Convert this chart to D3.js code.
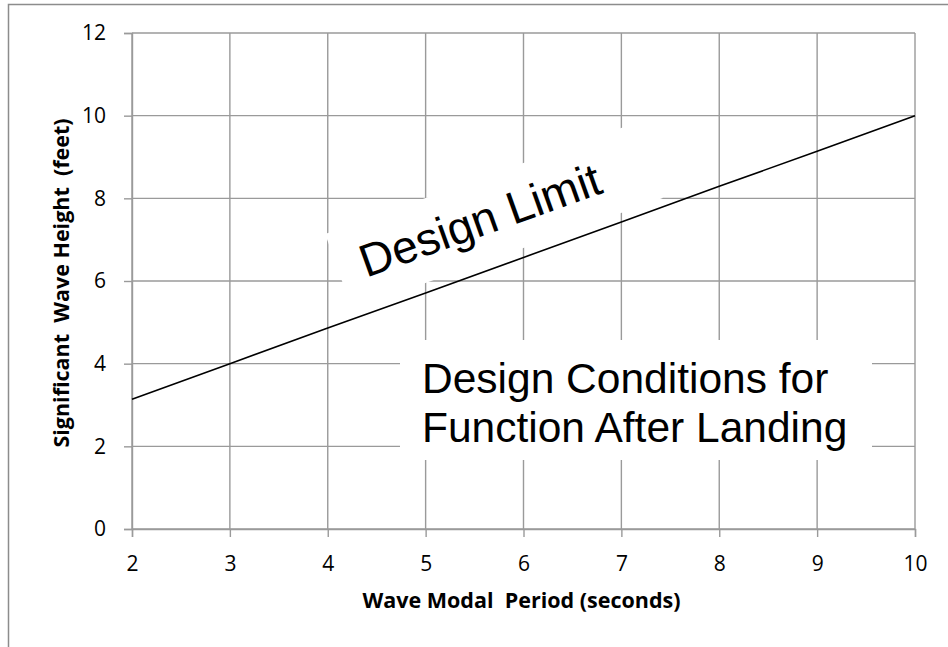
<!DOCTYPE html>
<html>
<head>
<meta charset="utf-8">
<script src="https://cdn.jsdelivr.net/npm/d3@7"></script>
<style>
  html, body { margin: 0; padding: 0; background: #fff; }
  svg { display: block; }
</style>
</head>
<body>
<svg id="chart" width="948" height="647"></svg>
<script>
// ---- data ----
const periods = [2, 3, 4, 5, 6, 7, 8, 9, 10];
const designLimit = [3.14, 4.0, 4.86, 5.71, 6.57, 7.43, 8.29, 9.14, 10.0];
const xTicks = [2, 3, 4, 5, 6, 7, 8, 9, 10];
const yTicks = [0, 2, 4, 6, 8, 10, 12];
const xTitle = "Wave Modal  Period (seconds)";
const yTitle = "Significant  Wave Height  (feet)";
const limitLabel = "Design Limit";
const regionLabel = ["Design Conditions for", "Function After Landing"];

// ---- layout ----
const svg = d3.select("#chart");
const x = d3.scaleLinear().domain([2, 10]).range([132, 915]);
const y = d3.scaleLinear().domain([0, 12]).range([529, 33]);
const gridColor = "#9a9a9a";
const tickFont = "'Open Sans', 'Liberation Sans', sans-serif";

// outer frame (cropped on right / bottom)
svg.append("rect").attr("x", 8.5).attr("y", 4.5).attr("width", 1000).attr("height", 1000)
  .attr("fill", "none").attr("stroke", "#8c8c8c").attr("stroke-width", 1.5);

// grid
const grid = svg.append("g");
grid.selectAll(".vg").data(xTicks).join("line")
  .attr("x1", d => x(d)).attr("x2", d => x(d))
  .attr("y1", y(12)).attr("y2", y(0))
  .attr("stroke", gridColor).attr("stroke-width", 1.4);
grid.selectAll(".hg").data(yTicks).join("line")
  .attr("x1", x(2)).attr("x2", x(10))
  .attr("y1", d => y(d)).attr("y2", d => y(d))
  .attr("stroke", gridColor).attr("stroke-width", 1.4);

// axes
const xAxis = svg.append("g").attr("transform", `translate(0,${y(0)})`)
  .call(d3.axisBottom(x).tickValues(xTicks).tickSize(8).tickPadding(19).tickFormat(d3.format("d")));
const yAxis = svg.append("g").attr("transform", `translate(${x(2)},0)`)
  .call(d3.axisLeft(y).tickValues(yTicks).tickSize(8).tickPadding(18).tickFormat(d3.format("d")));
[xAxis, yAxis].forEach(a => {
  a.select(".domain").attr("stroke", gridColor).attr("stroke-width", 1.4);
  a.selectAll(".tick line").attr("stroke", gridColor).attr("stroke-width", 1.4);
  a.selectAll(".tick text").attr("font-family", tickFont).attr("font-size", 21).attr("fill", "#000");
});

// axis titles
svg.append("text").attr("x", (x(2) + x(10)) / 2 - 2).attr("y", 608)
  .attr("text-anchor", "middle").attr("font-family", tickFont).attr("font-weight", "bold")
  .attr("font-size", 21.5).attr("fill", "#000").attr("xml:space", "preserve").text(xTitle);
svg.append("text").attr("transform", `translate(69,${(y(0) + y(12)) / 2 + 2}) rotate(-90)`)
  .attr("text-anchor", "middle").attr("font-family", tickFont).attr("font-weight", "bold")
  .attr("font-size", 21.5).attr("fill", "#000").attr("xml:space", "preserve").text(yTitle);

// region label box
const rb = svg.append("g");
rb.append("rect").attr("x", 400).attr("y", 340).attr("width", 472).attr("height", 120).attr("fill", "#fff");
rb.selectAll("text").data(regionLabel).join("text")
  .attr("x", 422).attr("y", (d, i) => 393 + i * 49)
  .attr("font-family", "'Liberation Sans', Arial, sans-serif").attr("font-size", 42.5)
  .attr("fill", "#000").text(d => d);

// design limit label box (rotated)
const lb = svg.append("g").attr("transform", "translate(494,216) rotate(-19.7)");
lb.append("rect").attr("x", -165).attr("y", -40).attr("width", 330).attr("height", 80).attr("fill", "#fff");
lb.append("text").attr("x", -141).attr("y", 15)
  .attr("font-family", "'Liberation Sans', Arial, sans-serif").attr("font-size", 46)
  .attr("fill", "#000").text(limitLabel);

// design limit line
const line = d3.line().x((d, i) => x(periods[i])).y(d => y(d));
svg.append("path").datum(designLimit).attr("d", line)
  .attr("fill", "none").attr("stroke", "#000").attr("stroke-width", 1.6);
</script>
</body>
</html>
